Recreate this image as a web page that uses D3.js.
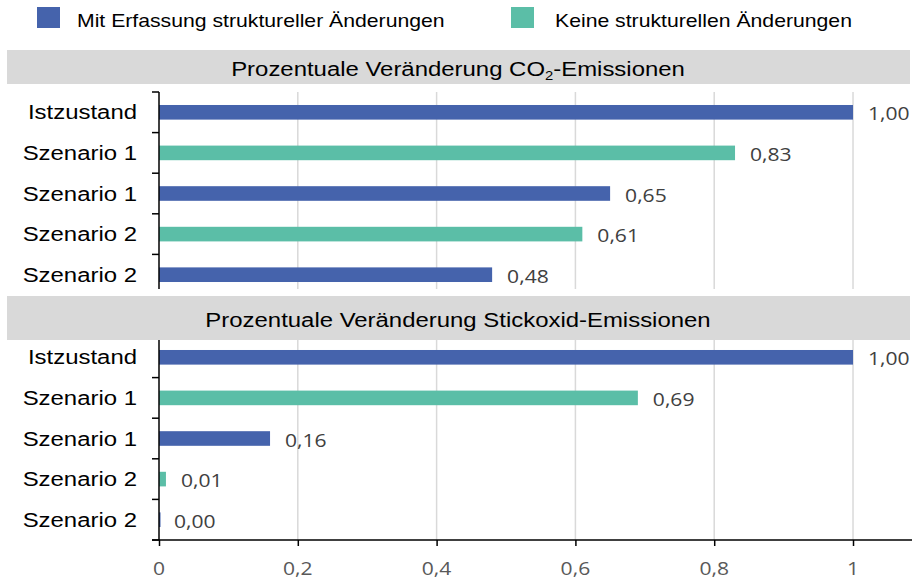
<!DOCTYPE html>
<html>
<head>
<meta charset="utf-8">
<script src="https://cdn.jsdelivr.net/npm/d3@7"></script>
<style>
  html, body { margin: 0; padding: 0; background: #fff; }
  svg { display: block; }
</style>
</head>
<body>
<svg id="chart" width="914" height="580"></svg>
<script>
// ---- data ----
const categories = ["Istzustand", "Szenario 1", "Szenario 1", "Szenario 2", "Szenario 2"];
const seriesOfRow = [0, 1, 0, 1, 0];
const seriesNames = ["Mit Erfassung struktureller Änderungen", "Keine strukturellen Änderungen"];
const co2Values = [1.00, 0.83, 0.65, 0.61, 0.48];
const noxValues = [1.00, 0.69, 0.16, 0.01, 0.00];
const xTicks = [0, 0.2, 0.4, 0.6, 0.8, 1];

// ---- style ----
const colors = ["#4563AC", "#5BBEA7"];
const SX = 1.14; // horizontal text stretch
const sansFont = "'Liberation Sans', Arial, sans-serif";
const numFont = "'Open Sans', 'DejaVu Sans', sans-serif";

const svg = d3.select("#chart");
const locale = d3.formatLocale({ decimal: ",", thousands: ".", grouping: [3], currency: ["", "€"] });
const fmt2 = locale.format(".2f");
const fmtTick = v => String(v).replace(".", ",");

const x = d3.scaleLinear().domain([0, 1.085]).range([159, 912]);

function sText(g, xPos, yPos, anchor, size, family, fill) {
  return g.append("g").attr("transform", `translate(${xPos},${yPos}) scale(${SX},1)`)
    .append("text")
    .attr("text-anchor", anchor)
    .attr("font-size", size)
    .attr("font-family", family)
    .attr("fill", fill);
}

// ---- legend ----
const legendX = [37, 511];
seriesNames.forEach((name, i) => {
  svg.append("rect").attr("x", legendX[i]).attr("y", 7).attr("width", 23).attr("height", 21).attr("fill", colors[i]);
  sText(svg, legendX[i] + 40 + (i === 1 ? 4 : 0), 26.5, "start", 18.6, sansFont, "#000").text(name);
});

// ---- panels ----
const panels = [
  { values: co2Values, band: [92, 295], clipTop: 92, clipBottom: 289, header: [50, 84], title: "co2" },
  { values: noxValues, band: [337, 540], clipTop: 340, clipBottom: 540, header: [296, 340], title: "nox" }
];

panels.forEach((p, pi) => {
  const g = svg.append("g");
  const y = d3.scaleBand().domain(d3.range(categories.length)).range(p.band)
    .paddingInner(0.64).paddingOuter(0.32);

  // gridlines
  g.selectAll(".grid").data(xTicks.filter(t => t > 0)).join("line")
    .attr("x1", d => x(d)).attr("x2", d => x(d))
    .attr("y1", p.clipTop).attr("y2", p.clipBottom)
    .attr("stroke", "#d9d9d9").attr("stroke-width", 1.5);

  // bars
  g.selectAll(".bar").data(p.values).join("rect")
    .attr("x", x(0))
    .attr("y", (d, i) => y(i))
    .attr("width", d => Math.max(x(d) - x(0), 1.5))
    .attr("height", y.bandwidth())
    .attr("fill", (d, i) => colors[seriesOfRow[i]]);

  // value labels
  p.values.forEach((v, i) => {
    sText(g, x(v) + 15, y(i) + y.bandwidth() / 2 + 8, "start", 18.5, numFont, "#404040").text(fmt2(v));
  });

  // category labels
  categories.forEach((c, i) => {
    sText(g, 137, y(i) + y.bandwidth() / 2 + 7, "end", 21, sansFont, "#000").text(c);
  });

  // left axis line and category boundary ticks
  g.append("line").attr("x1", x(0)).attr("x2", x(0))
    .attr("y1", p.clipTop).attr("y2", p.clipBottom)
    .attr("stroke", "#000").attr("stroke-width", 1.5);
  const step = y.step();
  const bounds = d3.range(categories.length + 1).map(k => p.band[0] + k * step)
    .filter(b => b >= p.clipTop - 0.5 && b <= p.clipBottom + 0.5);
  g.selectAll(".ytick").data(bounds).join("line")
    .attr("x1", x(0) - 7).attr("x2", x(0))
    .attr("y1", d => d).attr("y2", d => d)
    .attr("stroke", "#000").attr("stroke-width", 1.5);

  // header band
  svg.append("rect").attr("x", 7).attr("y", p.header[0]).attr("width", 903)
    .attr("height", p.header[1] - p.header[0]).attr("fill", "#d9d9d9");
  const ty = pi === 0 ? 76 : 327;
  const t = sText(svg, 458, ty, "middle", 21, sansFont, "#000");
  if (p.title === "co2") {
    t.append("tspan").text("Prozentuale Veränderung CO");
    t.append("tspan").attr("font-size", 13).attr("dy", 4).text("2");
    t.append("tspan").attr("dy", -4).text("-Emissionen");
  } else {
    t.text("Prozentuale Veränderung Stickoxid-Emissionen");
  }
});

// ---- x axis ----
const xAxis = d3.axisBottom(x).tickValues(xTicks).tickSize(6).tickSizeOuter(0).tickFormat(fmtTick);
const ax = svg.append("g").attr("transform", "translate(0,540)").call(xAxis);
ax.select(".domain").attr("stroke", "#000").attr("stroke-width", 1.5)
  .attr("d", `M152,0H912`);
ax.selectAll(".tick line").attr("stroke", "#000").attr("stroke-width", 1.5);
ax.selectAll(".tick text").remove();
xTicks.forEach(t => {
  sText(ax, x(t), 35, "middle", 18.5, numFont, "#595959").text(fmtTick(t));
});
</script>
</body>
</html>
